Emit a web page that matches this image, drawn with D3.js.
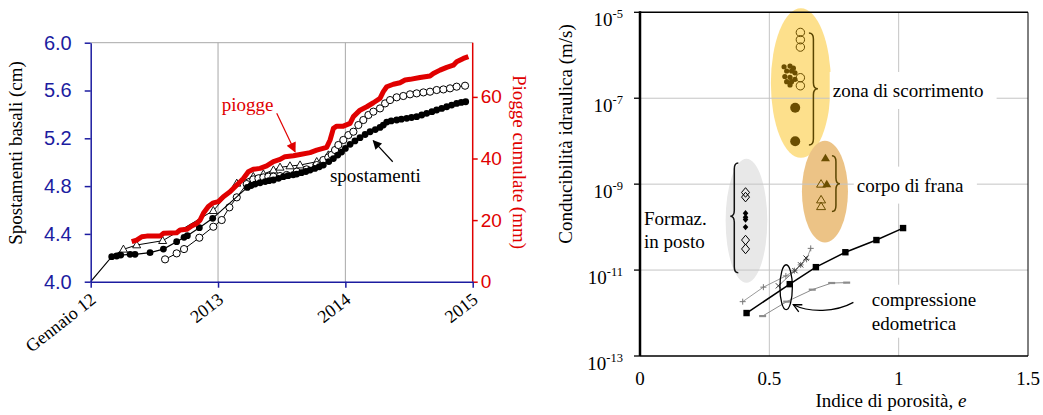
<!DOCTYPE html>
<html>
<head>
<meta charset="utf-8">
<script src="https://d3js.org/d3.v7.min.js"></script>
<style>
  body { margin: 0; background: #fff; }
  svg { display: block; }
  text { font-family: "Liberation Serif", "Times New Roman", serif; }
  .sans text, text.sans { font-family: "Liberation Sans", Arial, sans-serif; }
</style>
</head>
<body>
<svg id="chart" width="1043" height="415"></svg>
<script>
// ---------- left panel data ----------
var yearTicks = [2012, 2013, 2014, 2015];
var yearLabels = ["Gennaio 12", "2013", "2014", "2015"];
var cmTicks = [4.0, 4.4, 4.8, 5.2, 5.6, 6.0];
var mmTicks = [0, 20, 40, 60];

// [decimal year, cumulated rain mm]
var piogge = [
  [2012.322,13.0],[2012.361,13.5],[2012.401,14.6],[2012.440,14.8],[2012.545,14.8],[2012.571,15.7],
  [2012.675,15.9],[2012.702,16.8],[2012.754,17.0],[2012.793,18.1],[2012.832,18.9],[2012.859,20.0],
  [2012.885,22.2],[2012.924,24.4],[2012.963,25.6],[2013.003,26.0],[2013.042,27.6],[2013.094,29.2],
  [2013.120,30.3],[2013.160,31.9],[2013.199,33.5],[2013.238,35.7],[2013.277,36.5],[2013.330,36.8],
  [2013.382,37.6],[2013.435,39.0],[2013.487,39.7],[2013.526,40.6],[2013.592,40.9],[2013.644,41.3],
  [2013.723,41.9],[2013.775,42.7],[2013.853,43.6],[2013.880,46.0],[2013.906,49.8],[2013.932,50.5],
  [2013.984,50.5],[2014.037,51.4],[2014.063,53.6],[2014.115,55.7],[2014.168,56.8],[2014.220,58.1],
  [2014.272,59.5],[2014.298,61.7],[2014.325,63.3],[2014.377,64.1],[2014.429,64.6],[2014.469,65.5],
  [2014.508,65.7],[2014.586,66.3],[2014.665,66.8],[2014.691,67.6],[2014.743,68.7],[2014.796,69.6],
  [2014.848,70.3],[2014.874,71.4],[2014.927,72.5],[2014.966,73.1]
];

// [decimal year, displacement cm] - filled circles (first point: start of line, no marker)
var spostFilled = [
  [2012.0,4.0],
  [2012.165,4.209],[2012.204,4.215],[2012.236,4.223],[2012.309,4.229],[2012.348,4.229],[2012.466,4.243],
  [2012.571,4.273],[2012.675,4.335],[2012.733,4.371],[2012.759,4.385],[2012.853,4.452],[2012.958,4.530],
  [2013.230,4.789],[2013.26,4.805],[2013.291,4.817],[2013.33,4.828],[2013.37,4.838],[2013.40,4.845],
  [2013.435,4.851],[2013.475,4.865],[2013.513,4.879],[2013.55,4.887],[2013.59,4.895],[2013.618,4.901],
  [2013.655,4.912],[2013.69,4.922],[2013.723,4.934],[2013.76,4.948],[2013.795,4.962],[2013.827,4.976],
  [2013.87,5.005],[2013.906,5.030],[2013.94,5.06],[2013.97,5.085],[2014.0,5.115],[2014.037,5.150],
  [2014.075,5.178],[2014.115,5.205],[2014.155,5.232],[2014.194,5.255],[2014.235,5.273],[2014.272,5.291],
  [2014.298,5.311],[2014.325,5.336],[2014.36,5.345],[2014.403,5.353],[2014.44,5.360],[2014.482,5.367],
  [2014.52,5.374],[2014.560,5.381],[2014.60,5.395],[2014.639,5.409],[2014.68,5.423],[2014.717,5.437],
  [2014.757,5.450],[2014.796,5.464],[2014.835,5.478],[2014.874,5.492],[2014.91,5.500],[2014.945,5.506]
];

// open circles
var spostOpen = [
  [2012.584,4.187],[2012.675,4.237],[2012.733,4.273],[2012.853,4.368],[2012.963,4.460],[2013.029,4.516],
  [2013.089,4.622],[2013.147,4.706],[2013.225,4.817],[2013.277,4.856],[2013.317,4.865],[2013.356,4.873],
  [2013.395,4.879],[2013.435,4.879],[2013.487,4.884],[2013.539,4.893],[2013.618,4.921],[2013.696,4.940],
  [2013.775,4.976],[2013.827,5.018],[2013.866,5.040],[2013.893,5.062],[2013.919,5.102],[2013.945,5.144],
  [2013.984,5.186],[2014.024,5.227],[2014.063,5.255],[2014.102,5.311],[2014.141,5.353],[2014.181,5.395],
  [2014.220,5.423],[2014.272,5.450],[2014.312,5.492],[2014.351,5.520],[2014.403,5.543],[2014.455,5.554],
  [2014.508,5.568],[2014.560,5.576],[2014.613,5.584],[2014.665,5.590],[2014.717,5.604],[2014.770,5.609],
  [2014.822,5.618],[2014.874,5.632],[2014.940,5.640]
];

// open triangles (first point: start of line, no marker)
var spostTri = [
  [2012.165,4.209],
  [2012.257,4.271],[2012.361,4.307],[2012.565,4.343],[2012.963,4.594],[2013.147,4.823],[2013.277,4.879],
  [2013.356,4.901],[2013.435,4.934],[2013.487,4.957],[2013.565,4.968],[2013.644,4.976],[2013.775,5.004],
  [2013.866,5.060]
];

// ---------- right panel data ----------
var eTicks = [0, 0.5, 1, 1.5];
var eLabels = ["0", "0.5", "1", "1.5"];
var kTickExp = [-5, -7, -9, -11, -13];

// [void ratio e, hydraulic conductivity m/s]
var zonaOpen = [[0.62,3.4e-6],[0.62,2.3e-6],[0.62,1.55e-6],[0.62,3.0e-7],[0.62,1.95e-7]];
var zonaBig = [[0.60,6.0e-8],[0.60,1.0e-8]];
var zonaSmall = [[0.557,5.4e-7],[0.580,5.6e-7],[0.593,5.0e-7],[0.567,4.3e-7],[0.586,4.3e-7],[0.599,3.9e-7],
  [0.560,3.2e-7],[0.580,3.07e-7],[0.599,2.75e-7],[0.567,2.43e-7],[0.586,2.43e-7],[0.580,2.04e-7]];
var corpoFilled = [[0.717,4.0e-9],[0.722,1.0e-9]];
var corpoOpen = [[0.700,1.0e-9],[0.700,4.3e-10],[0.700,3.0e-10]];
var formazOpen = [[0.408,6.4e-10],[0.408,5.0e-10],[0.408,5.0e-11],[0.408,3.1e-11]];
var formazFilled = [[0.408,2.1e-10],[0.408,1.7e-10],[0.408,1.5e-10],[0.408,1.0e-10]];
var edoSquares = [[0.412,1.0e-12],[0.579,4.7e-12],[0.680,1.17e-11],[0.794,2.6e-11],[0.914,5.0e-11],[1.017,9.5e-11]];
var edoPlus = [[0.397,1.84e-12],[0.477,4.0e-12],[0.564,7.3e-12],[0.597,9.7e-12],[0.621,1.32e-11],[0.644,1.78e-11],[0.660,3.2e-11]];
var edoCross = [[0.535,4.3e-12],[0.599,9.7e-12],[0.621,1.32e-11],[0.642,1.9e-11]];
var edoDash = [[0.474,8.5e-13],[0.567,1.84e-12],[0.666,3.5e-12],[0.741,5.0e-12],[0.799,5.1e-12]];

// grouping ellipses and braces (data space extents)
var zoneZona = {e: [0.506, 0.738], k: [1.24e-5, 4.1e-9]};
var zoneCorpo = {e: [0.626, 0.804], k: [1.02e-8, 4.4e-11]};
var zoneFormaz = {e: [0.331, 0.492], k: [3.9e-9, 5.1e-12]};
var zoneEdo = {e: [0.541, 0.589], k: [1.33e-11, 1.2e-12]};
var braceZona = {e: 0.653, k: [3.3e-6, 8.1e-9], tip: 1.66e-7};
var braceCorpo = {e: 0.742, k: [4.6e-9, 2.3e-10], tip: 1.02e-9};
var braceFormaz = {e: 0.380, k: [3.1e-9, 8.7e-12], tip: 1.78e-10};

var svg = d3.select("#chart");
var defs = svg.append("defs");
var blue = "#1c1ca0", red = "#e00000";

function headMarker(id, color, w, h) {
  defs.append("marker").attr("id", id)
    .attr("viewBox", "0 0 10 10").attr("refX", 9).attr("refY", 5)
    .attr("markerWidth", w).attr("markerHeight", h)
    .attr("markerUnits", "userSpaceOnUse").attr("orient", "auto")
    .append("path").attr("d", "M0,0L10,5L0,10z").attr("fill", color);
}
headMarker("arrRed", red, 13, 10);
headMarker("arrBlack", "#000", 11, 9);
defs.append("marker").attr("id", "arrOpen")
  .attr("viewBox", "0 0 10 10").attr("refX", 9).attr("refY", 5)
  .attr("markerWidth", 10).attr("markerHeight", 10)
  .attr("markerUnits", "userSpaceOnUse").attr("orient", "auto")
  .append("path").attr("d", "M1,1L9,5L1,9").attr("fill", "none").attr("stroke", "#000").attr("stroke-width", 1.3);

// =============== LEFT PANEL ===============
var x = d3.scaleLinear().domain([2012, 2015]).range([90.7, 472.7]);
var yL = d3.scaleLinear().domain([4, 6]).range([281.7, 42.7]);
var yR = d3.scaleLinear().domain([0, 77.6]).range([281.7, 42.7]);

var L = svg.append("g");

L.append("g").selectAll("line").data([2013, 2014]).enter().append("line")
  .attr("x1", function(d) { return x(d); }).attr("x2", function(d) { return x(d); })
  .attr("y1", yL(6)).attr("y2", yL(4))
  .attr("stroke", "#a8a8a8").attr("stroke-width", 1);
L.append("line").attr("x1", x(2012)).attr("x2", x(2015)).attr("y1", yL(6)).attr("y2", yL(6))
  .attr("stroke", "#a8a8a8");

// series
var lineL = d3.line().x(function(d) { return x(d[0]); }).y(function(d) { return yL(d[1]); });

L.append("path").datum(spostTri).attr("d", lineL).attr("fill", "none").attr("stroke", "#000").attr("stroke-width", 1);
L.append("g").selectAll("path").data(spostTri.slice(1)).enter().append("path")
  .attr("transform", function(d) { return "translate(" + x(d[0]) + "," + yL(d[1]) + ")"; })
  .attr("d", "M0,-4.2L4,2.8L-4,2.8Z").attr("fill", "#fff").attr("stroke", "#000").attr("stroke-width", 0.9);

L.append("path").datum(spostOpen).attr("d", lineL).attr("fill", "none").attr("stroke", "#000").attr("stroke-width", 1);
L.append("g").selectAll("circle").data(spostOpen).enter().append("circle")
  .attr("cx", function(d) { return x(d[0]); }).attr("cy", function(d) { return yL(d[1]); })
  .attr("r", 3.6).attr("fill", "#fff").attr("stroke", "#000").attr("stroke-width", 1);

L.append("path").datum(spostFilled).attr("d", lineL).attr("fill", "none").attr("stroke", "#000").attr("stroke-width", 1.2);
L.append("g").selectAll("circle").data(spostFilled.slice(1)).enter().append("circle")
  .attr("cx", function(d) { return x(d[0]); }).attr("cy", function(d) { return yL(d[1]); })
  .attr("r", 3.4).attr("fill", "#000");

L.append("path").datum(piogge)
  .attr("d", d3.line().x(function(d) { return x(d[0]); }).y(function(d) { return yR(d[1]); }))
  .attr("fill", "none").attr("stroke", red).attr("stroke-width", 5).attr("stroke-linejoin", "round");

// axes
var axL = L.append("g").attr("class", "sans").attr("transform", "translate(" + x(2012) + ",0)")
  .call(d3.axisLeft(yL).tickValues(cmTicks).tickFormat(d3.format(".1f")).tickSize(6).tickSizeOuter(0).tickPadding(13));
axL.selectAll("path,line").attr("stroke", blue).attr("stroke-width", 1.5);
axL.selectAll("text").attr("fill", blue).attr("font-size", 20);

var axR = L.append("g").attr("class", "sans").attr("transform", "translate(" + x(2015) + ",0)")
  .call(d3.axisRight(yR).tickValues(mmTicks).tickSize(5).tickSizeOuter(0).tickPadding(3));
axR.select(".domain").attr("d", "M0," + yL(4) + "V" + yL(6));
axR.selectAll("path,line").attr("stroke", red).attr("stroke-width", 1.5);
axR.selectAll("text").attr("fill", red).attr("font-size", 19);

var axB = L.append("g").attr("transform", "translate(0," + yL(4) + ")")
  .call(d3.axisBottom(x).tickValues(yearTicks).tickSize(6).tickSizeOuter(0)
    .tickFormat(function(d, i) { return yearLabels[i]; }));
axB.selectAll("path,line").attr("stroke", blue).attr("stroke-width", 1.5);
axB.selectAll("text").attr("x", 0).attr("y", 0).attr("dy", 0)
  .attr("transform", "translate(6,20) rotate(-38)")
  .attr("text-anchor", "end").attr("font-size", 18).attr("fill", "#000")
  .attr("font-family", "Liberation Serif, serif");

// titles
L.append("text").attr("transform", "translate(22,153) rotate(-90)").attr("text-anchor", "middle")
  .attr("font-size", 19).attr("fill", "#000").text("Spostamenti basali (cm)");
L.append("text").attr("transform", "translate(513,162) rotate(90)").attr("text-anchor", "middle")
  .attr("font-size", 19).attr("fill", red).text("Piogge cumulate (mm)");

// annotations
L.append("text").attr("x", x(2013.029)).attr("y", yR(55.5)).attr("font-size", 19).attr("fill", red).text("piogge");
L.append("line").attr("x1", x(2013.461)).attr("y1", yR(54.7)).attr("x2", x(2013.605)).attr("y2", yR(42.2))
  .attr("stroke", red).attr("stroke-width", 1.2).attr("marker-end", "url(#arrRed)");
L.append("text").attr("x", x(2013.879)).attr("y", yL(4.834)).attr("font-size", 19).attr("fill", "#000").text("spostamenti");
L.append("line").attr("x1", x(2014.372)).attr("y1", yL(5.004)).attr("x2", x(2014.219)).attr("y2", yL(5.180))
  .attr("stroke", "#000").attr("stroke-width", 1.2).attr("marker-end", "url(#arrBlack)");

// =============== RIGHT PANEL ===============
var xE = d3.scaleLinear().domain([0, 1.5]).range([640, 1028]);
var yK = d3.scaleLog().domain([1e-13, 1e-5]).range([356, 12.3]);
var R = svg.append("g");

function ell(z, fill) {
  var x0 = xE(z.e[0]), x1 = xE(z.e[1]), y0 = yK(z.k[0]), y1 = yK(z.k[1]);
  return R.append("ellipse").attr("cx", (x0 + x1) / 2).attr("cy", (y0 + y1) / 2)
    .attr("rx", (x1 - x0) / 2).attr("ry", Math.abs(y1 - y0) / 2).attr("fill", fill);
}
ell(zoneZona, "#fde08c");
ell(zoneCorpo, "#ecc386");
ell(zoneFormaz, "#e8e8e8");

// grid
R.append("g").selectAll("line").data([0.5, 1]).enter().append("line")
  .attr("x1", function(d) { return xE(d); }).attr("x2", function(d) { return xE(d); })
  .attr("y1", yK(1e-5)).attr("y2", yK(1e-13)).attr("stroke", "#c4c4c4");
R.append("g").selectAll("line").data([-7, -9, -11]).enter().append("line")
  .attr("x1", xE(0)).attr("x2", xE(1.5))
  .attr("y1", function(d) { return yK(Math.pow(10, d)); }).attr("y2", function(d) { return yK(Math.pow(10, d)); })
  .attr("stroke", "#c4c4c4");

// text labels with white boxes
function boxed(lines, e, k, lh, padX, padY) {
  var g = R.append("g");
  var rect = g.append("rect").attr("fill", "#fff");
  var t = g.append("text").attr("font-size", 19).attr("fill", "#000");
  lines.forEach(function(s, i) {
    t.append("tspan").attr("x", xE(e)).attr("y", yK(k) + i * lh).text(s);
  });
  if (padX !== null) {
    var b = t.node().getBBox();
    rect.attr("x", b.x - padX).attr("y", b.y - padY).attr("width", b.width + 2 * padX + 10).attr("height", b.height + 2 * padY);
  }
}
boxed(["zona di scorrimento"], 0.745, 1.07e-7, 0, 3, 8);
boxed(["corpo di frana"], 0.838, 6.7e-10, 0, 3, 8);
boxed(["compressione", "edometrica"], 0.896, 1.48e-12, 24, 3, 4);
boxed(["Formaz.", "in posto"], 0.0155, 1.13e-10, 23, null, 0);

// braces
function brace(b, dir, w, color) {
  var xb = xE(b.e), y1 = yK(b.k[0]), y2 = yK(b.k[1]), ym = yK(b.tip);
  var xm = xb + dir * w / 2, xt = xb + dir * w;
  var p = "M" + xb + "," + y1 + "Q" + xm + "," + y1 + " " + xm + "," + (y1 + 6) +
    "L" + xm + "," + (ym - 6) + "Q" + xm + "," + ym + " " + xt + "," + ym +
    "Q" + xm + "," + ym + " " + xm + "," + (ym + 6) +
    "L" + xm + "," + (y2 - 6) + "Q" + xm + "," + y2 + " " + xb + "," + y2;
  R.append("path").attr("d", p).attr("fill", "none").attr("stroke", color).attr("stroke-width", 1.5);
}
brace(braceZona, 1, 9, "#5a4500");
brace(braceCorpo, 1, 8, "#5a4500");
brace(braceFormaz, -1, 8, "#111");

var brown = "#6b4e00";
function pos(d) { return "translate(" + xE(d[0]) + "," + yK(d[1]) + ")"; }

R.append("g").selectAll("circle").data(zonaOpen).enter().append("circle")
  .attr("cx", function(d) { return xE(d[0]); }).attr("cy", function(d) { return yK(d[1]); })
  .attr("r", 4.2).attr("fill", "none").attr("stroke", brown).attr("stroke-width", 1);
R.append("g").selectAll("circle").data(zonaBig).enter().append("circle")
  .attr("cx", function(d) { return xE(d[0]); }).attr("cy", function(d) { return yK(d[1]); })
  .attr("r", 5).attr("fill", brown);
R.append("g").selectAll("circle").data(zonaSmall).enter().append("circle")
  .attr("cx", function(d) { return xE(d[0]); }).attr("cy", function(d) { return yK(d[1]); })
  .attr("r", 2.6).attr("fill", brown);

R.append("g").selectAll("path").data(corpoOpen).enter().append("path").attr("transform", pos)
  .attr("d", "M0,-4.5L4.5,3L-4.5,3Z").attr("fill", "none").attr("stroke", brown).attr("stroke-width", 1);
R.append("g").selectAll("path").data(corpoFilled).enter().append("path").attr("transform", pos)
  .attr("d", "M0,-4.5L4.5,3L-4.5,3Z").attr("fill", brown);

R.append("g").selectAll("path").data(formazOpen).enter().append("path").attr("transform", pos)
  .attr("d", "M0,-4.8L4,0L0,4.8L-4,0Z").attr("fill", "none").attr("stroke", "#000").attr("stroke-width", 1);
R.append("g").selectAll("path").data(formazFilled).enter().append("path").attr("transform", pos)
  .attr("d", "M0,-3.2L2.8,0L0,3.2L-2.8,0Z").attr("fill", "#000");

var lineR = d3.line().x(function(d) { return xE(d[0]); }).y(function(d) { return yK(d[1]); });
R.append("path").datum(edoDash).attr("d", lineR).attr("fill", "none").attr("stroke", "#8c8c8c").attr("stroke-width", 1);
R.append("g").selectAll("path").data(edoDash).enter().append("path").attr("transform", pos)
  .attr("d", "M-3.5,0H3.5").attr("stroke", "#8c8c8c").attr("stroke-width", 2.2);
R.append("path").datum(edoPlus).attr("d", lineR).attr("fill", "none").attr("stroke", "#9a9a9a").attr("stroke-width", 1);
R.append("g").selectAll("path").data(edoPlus).enter().append("path").attr("transform", pos)
  .attr("d", "M-3,0H3M0,-3V3").attr("stroke", "#777").attr("stroke-width", 1);
R.append("path").datum(edoCross).attr("d", lineR).attr("fill", "none").attr("stroke", "#666").attr("stroke-width", 0.8);
R.append("g").selectAll("path").data(edoCross).enter().append("path").attr("transform", pos)
  .attr("d", "M-2.6,-2.6L2.6,2.6M-2.6,2.6L2.6,-2.6").attr("stroke", "#333").attr("stroke-width", 1);
R.append("path").datum(edoSquares).attr("d", lineR).attr("fill", "none").attr("stroke", "#000").attr("stroke-width", 1.5);
R.append("g").selectAll("rect").data(edoSquares).enter().append("rect")
  .attr("x", function(d) { return xE(d[0]) - 3.2; }).attr("y", function(d) { return yK(d[1]) - 3.2; })
  .attr("width", 6.4).attr("height", 6.4).attr("fill", "#000");

// small ellipse and curved arrow
(function() {
  var x0 = xE(zoneEdo.e[0]), x1 = xE(zoneEdo.e[1]), y0 = yK(zoneEdo.k[0]), y1 = yK(zoneEdo.k[1]);
  R.append("ellipse").attr("cx", (x0 + x1) / 2).attr("cy", (y0 + y1) / 2)
    .attr("rx", (x1 - x0) / 2).attr("ry", (y1 - y0) / 2)
    .attr("fill", "none").attr("stroke", "#000").attr("stroke-width", 1.3);
  var sx = xE(0.825), sy = yK(1.77e-12), ex = xE(0.593), ey = yK(1.56e-12);
  R.append("path")
    .attr("d", "M" + sx + "," + sy + "C" + (sx - 18) + "," + (sy + 10) + " " + (ex + 16) + "," + (ey + 8) + " " + ex + "," + ey)
    .attr("fill", "none").attr("stroke", "#000").attr("stroke-width", 1.2).attr("marker-end", "url(#arrOpen)");
})();

// frame and axes
R.append("line").attr("x1", xE(0)).attr("x2", xE(1.5)).attr("y1", yK(1e-5)).attr("y2", yK(1e-5)).attr("stroke", "#000").attr("stroke-width", 1.5);
R.append("line").attr("x1", xE(1.5)).attr("x2", xE(1.5)).attr("y1", yK(1e-5)).attr("y2", yK(1e-13)).attr("stroke", "#000").attr("stroke-width", 1);
R.append("line").attr("x1", xE(0)).attr("x2", xE(1.5)).attr("y1", yK(1e-13)).attr("y2", yK(1e-13)).attr("stroke", "#000").attr("stroke-width", 1.5);
R.append("line").attr("x1", xE(0)).attr("x2", xE(0)).attr("y1", yK(1e-5) - 1).attr("y2", yK(1e-13)).attr("stroke", "#000").attr("stroke-width", 2.5);

var kt = R.append("g").selectAll("g").data(kTickExp).enter().append("g")
  .attr("transform", function(d) { return "translate(" + xE(0) + "," + yK(Math.pow(10, d)) + ")"; });
kt.append("line").attr("x1", -6).attr("x2", 0).attr("stroke", "#000").attr("stroke-width", 1.3);
var ktx = kt.append("text").attr("x", -17).attr("y", 13.5).attr("text-anchor", "end").attr("font-size", 19).attr("fill", "#000");
ktx.append("tspan").text("10");
ktx.append("tspan").attr("dy", -8).attr("font-size", 12.5).text(function(d) { return d; });

R.append("g").selectAll("text").data(eTicks).enter().append("text")
  .attr("x", function(d) { return xE(d); }).attr("y", 385).attr("text-anchor", "middle")
  .attr("font-size", 19).attr("fill", "#000").text(function(d, i) { return eLabels[i]; });

R.append("text").attr("transform", "translate(572,134) rotate(-90)").attr("text-anchor", "middle")
  .attr("font-size", 19).attr("fill", "#000").text("Conducibilità idraulica (m/s)");
var xt = R.append("text").attr("x", 891).attr("y", 407).attr("text-anchor", "middle").attr("font-size", 19).attr("fill", "#000");
xt.append("tspan").text("Indice di porosità, ");
xt.append("tspan").attr("font-style", "italic").text("e");
</script>
</body>
</html>
